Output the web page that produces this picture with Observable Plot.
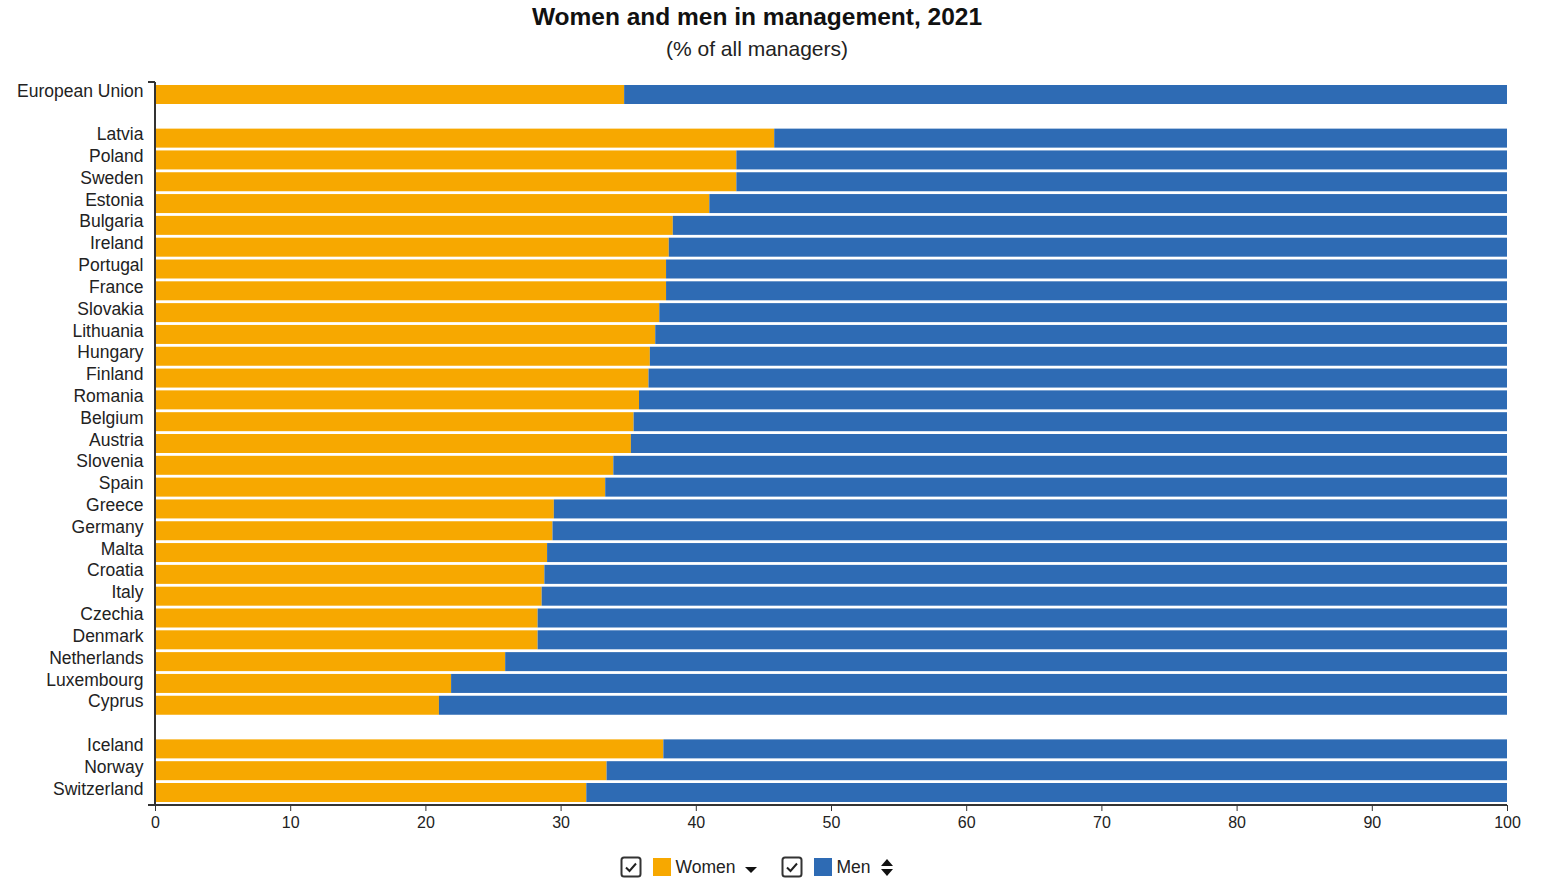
<!DOCTYPE html>
<html>
<head>
<meta charset="utf-8">
<script src="https://cdn.jsdelivr.net/npm/d3@7"></script>
<script src="https://cdn.jsdelivr.net/npm/@observablehq/plot@0.6"></script>
<style>
  body { margin: 0; background: #fff; font-family: "Liberation Sans", Arial, sans-serif; color: #111; }
  .head { width: 1514px; text-align: center; }
  #title { height: 34px; line-height: 34px; font-weight: bold; font-size: 24.5px; color: #111; }
  #subtitle { height: 30px; line-height: 30px; font-size: 21px; color: #222; }
  #chart svg { display: block; }
  #legend { width: 1514px; height: 44px; display: flex; justify-content: center; align-items: center; font-size: 17.5px; color: #222; }
  #legend .sw { display: inline-block; width: 18px; height: 18px; margin-left: 11px; margin-right: 4px; }
  #legend svg { display: block; }
</style>
</head>
<body>
<div id="title" class="head">Women and men in management, 2021</div>
<div id="subtitle" class="head">(% of all managers)</div>
<div id="chart"></div>
<div id="legend"></div>
<script>
// Share of women and men among all managers, 2021 (%)
const euGeo = ["European Union"];
const euWomen = [34.7];
const euMen = [65.3];

const memberStates = ["Latvia", "Poland", "Sweden", "Estonia", "Bulgaria", "Ireland", "Portugal", "France",
  "Slovakia", "Lithuania", "Hungary", "Finland", "Romania", "Belgium", "Austria", "Slovenia", "Spain",
  "Greece", "Germany", "Malta", "Croatia", "Italy", "Czechia", "Denmark", "Netherlands", "Luxembourg", "Cyprus"];
const memberWomen = [45.8, 43.0, 43.0, 41.0, 38.3, 38.0, 37.8, 37.8, 37.3, 37.0, 36.6, 36.5, 35.8, 35.4, 35.2,
  33.9, 33.3, 29.5, 29.4, 29.0, 28.8, 28.6, 28.3, 28.3, 25.9, 21.9, 21.0];
const memberMen = [54.2, 57.0, 57.0, 59.0, 61.7, 62.0, 62.2, 62.2, 62.7, 63.0, 63.4, 63.5, 64.2, 64.6, 64.8,
  66.1, 66.7, 70.5, 70.6, 71.0, 71.2, 71.4, 71.7, 71.7, 74.1, 78.1, 79.0];

const eftaGeo = ["Iceland", "Norway", "Switzerland"];
const eftaWomen = [37.6, 33.4, 31.9];
const eftaMen = [62.4, 66.6, 68.1];

const sexes = ["Women", "Men"];
const sexColors = ["#F7A800", "#2E6BB4"];
const xTicks = [0, 10, 20, 30, 40, 50, 60, 70, 80, 90, 100];

// Row order, with empty rows separating the groups
const rowOrder = [...euGeo, " ", ...memberStates, "  ", ...eftaGeo];

const geos = [...euGeo, ...memberStates, ...eftaGeo];
const women = [...euWomen, ...memberWomen, ...eftaWomen];
const men = [...euMen, ...memberMen, ...eftaMen];
const rows = [
  ...geos.map((g, i) => ({geo: g, sex: "Women", value: women[i]})),
  ...geos.map((g, i) => ({geo: g, sex: "Men", value: men[i]}))
];

// Axis lines: vertical at 0, baseline, and the outer tick at the top
function axisLines(index, scales, values, dims) {
  const g = d3.create("svg:g").attr("stroke", "#333").attr("stroke-width", 1.3).attr("shape-rendering", "crispEdges");
  const x0 = scales.x(0);
  const top = dims.marginTop, bottom = dims.height - dims.marginBottom;
  g.append("line").attr("x1", x0).attr("x2", x0).attr("y1", top).attr("y2", bottom);
  g.append("line").attr("x1", dims.marginLeft).attr("x2", dims.width - dims.marginRight).attr("y1", bottom).attr("y2", bottom);
  g.append("line").attr("x1", dims.marginLeft).attr("x2", x0).attr("y1", top).attr("y2", top);
  return g.node();
}

const chart = Plot.plot({
  width: 1552,
  height: 781,
  marginLeft: 148,
  marginRight: 45,
  marginTop: 18,
  marginBottom: 40,
  style: {fontFamily: '"Liberation Sans", Arial, sans-serif', fontSize: "17px", color: "#222", background: "#fff"},
  x: {domain: [0, 100], insetLeft: 7, label: null},
  y: {domain: rowOrder, paddingInner: 0.129, paddingOuter: 0.1375, round: false, label: null},
  color: {domain: sexes, range: sexColors},
  marks: [
    Plot.barX(rows, {y: "geo", x: "value", fill: "sex"}),
    Plot.axisX({ticks: xTicks, tickSize: 6, tickPadding: 5, fontSize: 16, stroke: "#333", label: null}),
    Plot.axisY({tickSize: 0, tickPadding: 5, dy: -4, fontSize: 17.5, label: null}),
    axisLines
  ]
});
document.getElementById("chart").appendChild(chart);

// Legend below the chart
const legend = d3.select("#legend");
const checkbox = () => {
  const s = legend.append("svg").attr("width", 22).attr("height", 22);
  s.append("rect").attr("x", 1.5).attr("y", 1.5).attr("width", 19).attr("height", 19).attr("rx", 2.5)
    .attr("fill", "#fff").attr("stroke", "#333").attr("stroke-width", 2);
  s.append("path").attr("d", "M6 11.5 L9.5 15 L16 7.5").attr("fill", "none").attr("stroke", "#222").attr("stroke-width", 2);
};
const item = (label, color) => {
  checkbox();
  legend.append("span").attr("class", "sw").style("background", color);
  legend.append("span").text(label);
};
item(sexes[0], sexColors[0]);
legend.append("svg").attr("width", 14).attr("height", 22).style("margin-left", "9px").style("margin-right", "23px")
  .append("path").attr("d", "M1 11 L13 11 L7 17 Z").attr("fill", "#111");
item(sexes[1], sexColors[1]);
const ud = legend.append("svg").attr("width", 14).attr("height", 22).style("margin-left", "9px");
ud.append("path").attr("d", "M1 10 L13 10 L7 3 Z").attr("fill", "#111");
ud.append("path").attr("d", "M1 13 L13 13 L7 20 Z").attr("fill", "#111");
</script>
</body>
</html>
